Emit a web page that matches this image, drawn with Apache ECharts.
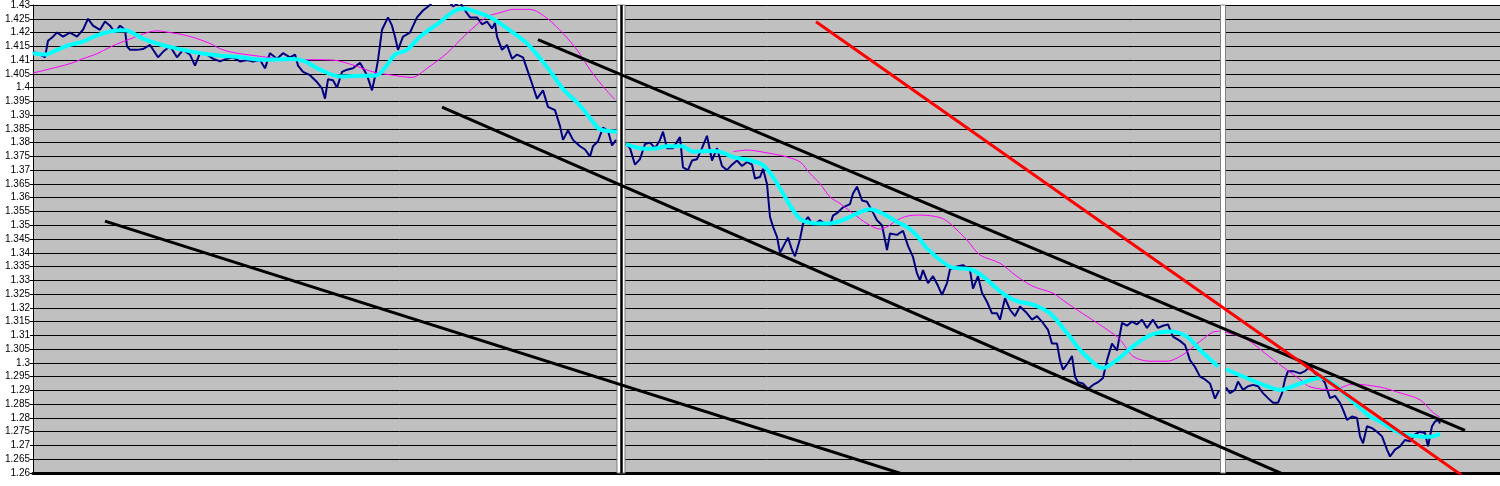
<!DOCTYPE html>
<html>
<head>
<meta charset="utf-8">
<script src="https://cdn.jsdelivr.net/npm/echarts/dist/echarts.min.js"></script>
<style>
  html, body { margin: 0; padding: 0; background: #fff; }
  #chart { width: 1500px; height: 486px; }
</style>
</head>
<body>
<div id="chart"></div>
<script>
// price axis ticks
const yMin = 1.26, yMax = 1.43, yStep = 0.005;
// time index (bars) across the three panels
const xMax = 1467;
const panelBreaks = [[584, 592], [1187.5, 1192.5]];
const blackBreak = 587.8;

// price, one array per panel: [bar, value]
const price1 = [[0,1.413],[7,1.412],[12,1.411],[15,1.417],[20,1.4185],[24,1.420],[30,1.4185],[37,1.420],[44,1.4185],[50,1.421],
  [55,1.425],[60,1.4225],[67,1.421],[72,1.424],[77,1.4225],[82,1.420],[87,1.4225],[92,1.421],[94,1.415],[97,1.4137],
  [104,1.4137],[110,1.414],[117,1.4155],[125,1.411],[130,1.413],[137,1.415],[144,1.411],[150,1.4137],[157,1.412],[162,1.408],
  [167,1.4125],[174,1.412],[180,1.4105],[187,1.4095],[194,1.4105],[200,1.411],[207,1.4095],[214,1.410],[220,1.4095],[227,1.410],
  [232,1.407],[237,1.4125],[244,1.4105],[250,1.4125],[257,1.411],[262,1.412],[265,1.408],[270,1.4057],[277,1.4045],[284,1.402],
  [289,1.3997],[292,1.396],[295,1.403],[300,1.4027],[304,1.400],[309,1.4057],[314,1.4065],[320,1.407],[327,1.409],[334,1.4045],
  [339,1.399],[342,1.404],[345,1.410],[349,1.421],[355,1.4255],[359,1.4225],[362,1.4185],[365,1.4137],[370,1.4185],[377,1.420],
  [384,1.4255],[390,1.428],[397,1.430],[404,1.433],[412,1.433],[420,1.4295],[427,1.431],[432,1.428],[437,1.4255],[444,1.4255],
  [449,1.423],[454,1.424],[459,1.4215],[462,1.4235],[464,1.4185],[469,1.4137],[474,1.4155],[479,1.4105],[484,1.412],[490,1.411],
  [495,1.4057],[499,1.4015],[504,1.396],[510,1.399],[515,1.393],[522,1.3918],[527,1.386],[530,1.381],[535,1.3845],[540,1.381],
  [547,1.3787],[552,1.3775],[557,1.375],[560,1.3787],[565,1.3805],[570,1.3855],[575,1.3843],[579,1.379],[583,1.381]];
const price2 = [[593,1.3795],[597,1.378],[602,1.372],[607,1.374],[612,1.3795],[617,1.380],[622,1.378],[627,1.381],[630,1.384],[634,1.378],
  [640,1.378],[647,1.382],[650,1.371],[655,1.370],[659,1.3735],[664,1.374],[669,1.378],[674,1.3825],[679,1.3735],[684,1.378],
  [689,1.3715],[694,1.370],[699,1.372],[704,1.3735],[709,1.3715],[714,1.373],[719,1.372],[722,1.367],[727,1.3675],[730,1.3705],
  [734,1.365],[737,1.353],[740,1.3495],[744,1.3458],[747,1.340],[752,1.3435],[755,1.3455],[759,1.341],[762,1.3387],[767,1.345],
  [770,1.3505],[775,1.353],[780,1.350],[787,1.3518],[792,1.3505],[797,1.350],[800,1.3535],[805,1.3547],[810,1.3565],[817,1.3577],
  [820,1.3615],[824,1.364],[829,1.359],[834,1.3585],[839,1.3553],[844,1.3518],[849,1.350],[854,1.341],[857,1.347],[864,1.3465],
  [870,1.348],[875,1.3425],[880,1.3385],[884,1.3325],[887,1.330],[890,1.3337],[895,1.329],[900,1.3315],[905,1.328],[909,1.3247],
  [914,1.329],[917,1.334],[924,1.335],[930,1.3355],[937,1.3337],[940,1.327],[945,1.3315],[949,1.3255],[954,1.3222],[959,1.318],
  [964,1.318],[967,1.3157],[972,1.3235],[977,1.3193],[982,1.317],[987,1.3205],[994,1.318],[999,1.3157],[1004,1.317],[1010,1.3145],
  [1015,1.312],[1019,1.307],[1024,1.307],[1027,1.301],[1030,1.2975],[1035,1.300],[1039,1.3025],[1042,1.295],[1045,1.293],[1050,1.2925],
  [1055,1.2905],[1060,1.292],[1065,1.293],[1070,1.2945],[1074,1.301],[1079,1.307],[1084,1.3045],[1089,1.3145],[1094,1.3135],[1099,1.315],
  [1104,1.314],[1109,1.3157],[1114,1.3127],[1120,1.3157],[1125,1.3127],[1130,1.3135],[1135,1.314],[1140,1.3095],[1147,1.308],[1152,1.3065],
  [1157,1.301],[1162,1.2985],[1167,1.295],[1172,1.294],[1177,1.2925],[1182,1.287],[1186,1.290]];
const price3 = [[1193,1.291],[1197,1.289],[1202,1.2902],[1205,1.2932],[1210,1.2902],[1215,1.2915],[1220,1.292],[1225,1.2915],[1230,1.289],[1235,1.2872],
  [1240,1.2855],[1245,1.2855],[1249,1.289],[1252,1.294],[1255,1.297],[1260,1.297],[1267,1.2962],[1272,1.297],[1277,1.2987],[1282,1.2962],
  [1287,1.295],[1292,1.2927],[1297,1.2872],[1302,1.288],[1307,1.2855],[1310,1.283],[1314,1.2793],[1319,1.2805],[1324,1.280],[1327,1.2733],
  [1330,1.2708],[1334,1.277],[1339,1.2763],[1344,1.275],[1349,1.2733],[1354,1.2685],[1357,1.266],[1362,1.2685],[1367,1.2697],[1372,1.272],
  [1377,1.2715],[1382,1.274],[1387,1.275],[1392,1.2745],[1395,1.2697],[1399,1.277],[1402,1.2787],[1405,1.2793],[1407,1.278]];

// fast moving average (cyan)
const fast1 = [[0,1.4125],[12,1.412],[24,1.4137],[37,1.4155],[50,1.4167],[64,1.419],[77,1.4204],[92,1.4208],[110,1.4178],[124,1.416],
  [137,1.4148],[150,1.4137],[164,1.4127],[177,1.412],[190,1.4115],[204,1.4112],[217,1.4105],[230,1.4101],[244,1.4102],[260,1.4104],
  [272,1.4095],[287,1.4065],[307,1.404],[327,1.4043],[344,1.4045],[354,1.4082],[362,1.412],[374,1.4137],[387,1.4185],[407,1.4238],
  [420,1.4275],[430,1.4287],[447,1.427],[460,1.425],[474,1.4215],[494,1.416],[514,1.4075],[530,1.3995],[547,1.3935],[560,1.3875],
  [567,1.3848],[584,1.384]];
const fast2 = [[593,1.3795],[607,1.378],[620,1.3778],[634,1.3787],[649,1.3787],[660,1.3767],[677,1.377],[687,1.3767],[700,1.3748],[717,1.3736],
  [730,1.3718],[740,1.3675],[750,1.3615],[760,1.3555],[769,1.3518],[787,1.3506],[800,1.3508],[817,1.353],[827,1.3548],[837,1.3558],
  [850,1.3542],[864,1.3512],[874,1.3494],[885,1.3458],[894,1.3416],[917,1.3349],[937,1.334],[950,1.3314],[967,1.326],[984,1.3224],
  [1000,1.3212],[1017,1.318],[1034,1.3108],[1050,1.3036],[1070,1.2981],[1084,1.3011],[1100,1.306],[1117,1.31],[1137,1.3114],[1154,1.3095],
  [1167,1.3047],[1185,1.2987]];
const fast3 = [[1193,1.2977],[1207,1.2955],[1227,1.2925],[1247,1.2902],[1267,1.2925],[1287,1.2945],[1300,1.2925],[1320,1.286],[1337,1.2805],[1347,1.2787],
  [1367,1.2745],[1387,1.2733],[1397,1.2732],[1407,1.2742]];

// slow moving average (magenta)
const slow1 = [[0,1.4053],[17,1.4068],[37,1.4087],[50,1.4105],[64,1.4123],[77,1.4147],[90,1.4167],[104,1.4186],[117,1.4203],[124,1.4206],
  [137,1.42],[150,1.4192],[164,1.4178],[177,1.416],[190,1.4137],[204,1.4125],[224,1.4115],[244,1.4106],[264,1.4102],[300,1.41],
  [320,1.4082],[340,1.4057],[360,1.4045],[379,1.4037],[394,1.407],[414,1.4125],[434,1.4197],[454,1.4257],[467,1.4272],[480,1.4284],
  [497,1.4284],[514,1.4252],[530,1.4197],[544,1.4137],[557,1.4065],[570,1.4004],[582,1.3956]];
const slow2 = [[700,1.3767],[714,1.3773],[734,1.3763],[754,1.3748],[767,1.373],[777,1.3688],[787,1.3651],[797,1.3603],[807,1.3579],[820,1.3543],
  [834,1.3506],[847,1.3486],[854,1.3494],[864,1.3518],[874,1.3533],[887,1.3537],[907,1.3528],[917,1.3506],[934,1.3446],[947,1.3392],
  [967,1.3362],[984,1.3314],[1000,1.3278],[1020,1.3253],[1034,1.3217],[1054,1.3169],[1074,1.3121],[1087,1.3085],[1100,1.3024],[1117,1.3006],
  [1134,1.3006],[1150,1.303],[1167,1.3078],[1180,1.3112],[1187,1.3115]];
const slow3 = [[1192,1.3112],[1214,1.3085],[1232,1.3035],[1250,1.2985],[1267,1.294],[1277,1.2913],[1300,1.2902],[1320,1.2923],[1347,1.2912],[1367,1.2891],
  [1387,1.2866],[1400,1.282],[1407,1.2803]];

// hand drawn trend lines
const trendLow = [[72,1.3515],[874,1.2591]];
const channelTop = [[505,1.4174],[1432,1.2755]];
const channelBottom = [[409,1.3929],[1253,1.2591]];
const trendRed = [[783,1.4239],[1429,1.2591]];

function lineSeries(data, color, width, z, smooth) {
  return {
    type: 'line',
    data: data,
    showSymbol: false,
    symbol: 'none',
    smooth: smooth || false,
    z: z,
    clip: true,
    lineStyle: { color: color, width: width },
    emphasis: { disabled: true }
  };
}

let chartDom = document.getElementById('chart');
let myChart = echarts.init(chartDom);

let series = [];
[price1, price2, price3].forEach(d => series.push(lineSeries(d, '#000080', 2, 2)));
[slow1, slow2, slow3].forEach(d => series.push(lineSeries(d, '#ff00ff', 1, 3, 0.3)));
[fast1, fast2, fast3].forEach(d => series.push(lineSeries(d, '#00ffff', 4, 4, 0.3)));

// panel separators
series.push({
  type: 'line',
  data: [],
  z: 5,
  markArea: {
    silent: true,
    itemStyle: { color: '#ffffff', borderColor: '#808080', borderWidth: 1 },
    data: panelBreaks.map(b => [{ xAxis: b[0] }, { xAxis: b[1] }])
  },
  markLine: {
    silent: true,
    symbol: 'none',
    label: { show: false },
    lineStyle: { color: '#000000', width: 2.5, type: 'solid' },
    data: [{ xAxis: blackBreak }]
  }
});

[trendLow, channelTop, channelBottom].forEach(d => series.push(lineSeries(d, '#000000', 3, 6)));
series.push(lineSeries(trendRed, '#ff0000', 3, 7));

let option = {
  animation: false,
  backgroundColor: '#ffffff',
  grid: {
    left: 33,
    right: 0,
    top: 4,
    bottom: 13,
    show: true,
    backgroundColor: '#c0c0c0',
    borderWidth: 0
  },
  xAxis: {
    type: 'value',
    min: 0,
    max: xMax,
    axisLabel: { show: false },
    axisTick: { show: false },
    splitLine: { show: false },
    axisLine: { show: true, onZero: false, lineStyle: { color: '#000000', width: 3 } }
  },
  yAxis: {
    type: 'value',
    min: yMin,
    max: yMax,
    interval: yStep,
    axisLine: { show: true, onZero: false, lineStyle: { color: '#000000', width: 1 } },
    axisTick: { show: true, length: 3, lineStyle: { color: '#000000' } },
    axisLabel: {
      color: '#000000',
      fontFamily: 'Liberation Sans',
      fontSize: 10,
      margin: 3,
      formatter: v => String(+v.toFixed(3))
    },
    splitLine: { show: true, lineStyle: { color: '#000000', width: 1 } }
  },
  series: series
};
option && myChart.setOption(option);
</script>
</body>
</html>
